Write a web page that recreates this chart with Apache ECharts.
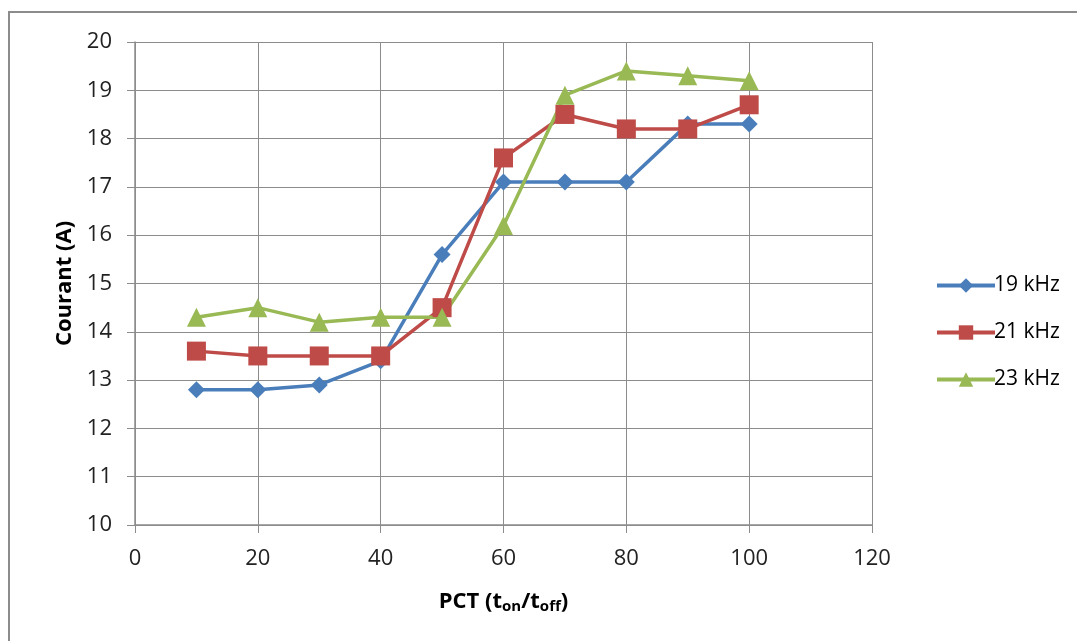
<!DOCTYPE html>
<html>
<head>
<meta charset="utf-8">
<script src="https://cdn.jsdelivr.net/npm/echarts@6/dist/echarts.min.js"></script>
<style>
html,body{margin:0;padding:0;background:#fff;}
#frame{position:absolute;left:8px;top:11px;width:1100px;height:700px;border:2px solid #8c8c8c;box-sizing:border-box;}
#c{position:absolute;left:0;top:0;width:1077px;height:641px;}
</style>
</head>
<body>
<div id="frame"></div>
<div id="c"></div>
<script>
const pct = [10, 20, 30, 40, 50, 60, 70, 80, 90, 100];
const s19 = [12.8, 12.8, 12.9, 13.4, 15.6, 17.1, 17.1, 17.1, 18.3, 18.3];
const s21 = [13.6, 13.5, 13.5, 13.5, 14.5, 17.6, 18.5, 18.2, 18.2, 18.7];
const s23 = [14.3, 14.5, 14.2, 14.3, 14.3, 16.2, 18.9, 19.4, 19.3, 19.2];
const seriesNames = ['19 kHz', '21 kHz', '23 kHz'];

const font = "'Open Sans', 'Liberation Sans', sans-serif";
const chart = echarts.init(document.getElementById('c'));
function pairs(ys){ return pct.map((x,i)=>[x, ys[i]]); }
function mk(name, ys, color, symbol, size){
  return {name, type:'line', data:pairs(ys), symbol, symbolSize:size,
    lineStyle:{color, width:3.5}, itemStyle:{color}, z: 2};
}
chart.setOption({
  animation:false,
  backgroundColor:'transparent',
  grid:{left:135, right:205, top:42, bottom:116},
  legend:{
    orient:'vertical', left:930, top:270, itemGap:26, itemWidth:58, itemHeight:18,
    lineStyle:{width:4},
    textStyle:{fontFamily:font, fontSize:21, color:'#000', padding:[0,0,0,-6]},
    data:seriesNames
  },
  xAxis:{
    type:'value', min:0, max:120, interval:20,
    axisLine:{show:true, lineStyle:{color:'#8c8c8c', width:1.5}},
    axisTick:{show:true, length:8, lineStyle:{color:'#8c8c8c'}},
    axisLabel:{fontFamily:font, fontSize:22, color:'#222', margin:23},
    splitLine:{show:true, lineStyle:{color:'#8c8c8c', width:1}},
    name:'{b|PCT (t}{s|on}{b|/t}{s|off}{b|)}', nameLocation:'middle', nameGap:64,
    nameTextStyle:{rich:{
      b:{fontFamily:font, fontSize:22, fontWeight:'bold', color:'#000'},
      s:{fontFamily:font, fontSize:15, fontWeight:'bold', color:'#000', verticalAlign:'bottom', padding:[10,0,0,0]}
    }}
  },
  yAxis:{
    type:'value', min:10, max:20, interval:1,
    axisLine:{show:true, lineStyle:{color:'#8c8c8c', width:1.5}},
    axisTick:{show:true, length:8, lineStyle:{color:'#8c8c8c'}},
    axisLabel:{fontFamily:font, fontSize:22, color:'#222', margin:23},
    splitLine:{show:true, lineStyle:{color:'#8c8c8c', width:1}},
    name:'Courant (A)', nameLocation:'middle', nameGap:58, nameRotate:90,
    nameTextStyle:{fontFamily:font, fontSize:22, fontWeight:'bold', color:'#000'}
  },
  series:[
    mk(seriesNames[0], s19, '#4A7EBB', 'diamond', 17),
    mk(seriesNames[1], s21, '#BE4B48', 'rect', 19),
    mk(seriesNames[2], s23, '#98B954', 'triangle', 19)
  ]
});
</script>
</body>
</html>
